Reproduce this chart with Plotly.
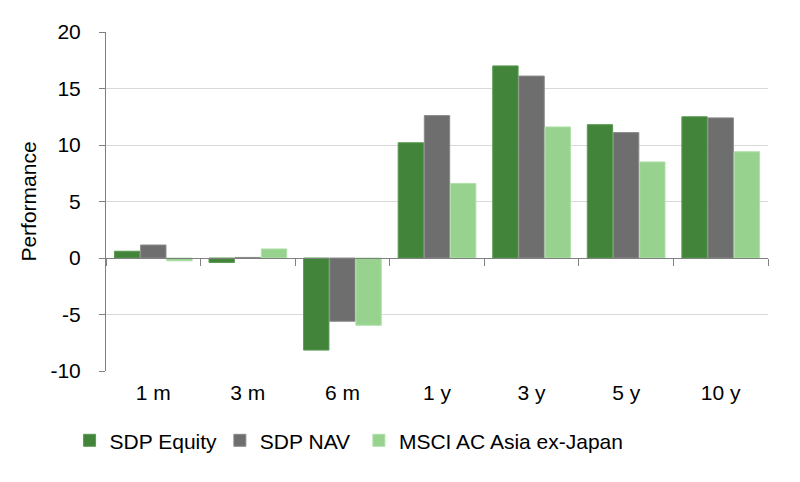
import plotly.graph_objects as go

PERIODS = ["1 m", "3 m", "6 m", "1 y", "3 y", "5 y", "10 y"]
SDP_EQUITY = [0.6, -0.4, -8.15, 10.2, 17.0, 11.8, 12.5]
SDP_NAV = [1.15, 0.05, -5.6, 12.6, 16.1, 11.1, 12.4]
MSCI_ASIA = [-0.25, 0.8, -5.95, 6.6, 11.6, 8.5, 9.4]
Y_TICKS = [-10, -5, 0, 5, 10, 15, 20]

SERIES = [
    ("SDP Equity", SDP_EQUITY, "#41843a", "#5a9c52", "legend", -0.055),
    ("SDP NAV", SDP_NAV, "#6e6e6e", "#8a8a8a", "legend2", 0.172),
    ("MSCI AC Asia ex-Japan", MSCI_ASIA, "#97d38f", "#b0e0aa", "legend3", 0.382),
]

FONT = "Liberation Sans, Arial, sans-serif"
AXIS = "#808080"
FS = 21

fig = go.Figure()
for name, vals, color, edge, leg, _ in SERIES:
    fig.add_trace(go.Bar(
        x=PERIODS, y=vals, name=name, legend=leg,
        marker=dict(color=color, line=dict(color=edge, width=1)),
    ))

# invisible trace so the bottom label axis is drawn
fig.add_trace(go.Scatter(x=PERIODS, y=[0] * len(PERIODS), xaxis="x2",
                         mode="markers", marker=dict(opacity=0),
                         showlegend=False, hoverinfo="skip"))

legends = {}
for _, _, _, _, leg, lx in SERIES:
    legends[leg] = dict(
        orientation="h", x=lx, xanchor="left", y=-0.145, yanchor="top",
        font=dict(size=FS), bgcolor="rgba(0,0,0,0)",
    )

fig.update_layout(
    width=800, height=482,
    margin=dict(l=98, r=40, t=18, b=119),
    paper_bgcolor="white", plot_bgcolor="white",
    font=dict(family=FONT, size=FS, color="black"),
    barmode="group", bargap=0.17, bargroupgap=0.03,
    xaxis=dict(
        anchor="free", position=1 / 3,
        showline=True, linecolor=AXIS, linewidth=1,
        ticks="outside", tickson="boundaries", ticklen=7, tickcolor=AXIS,
        showticklabels=False, showgrid=False,
    ),
    xaxis2=dict(
        matches="x", overlaying="x", anchor="y", side="bottom",
        showline=False, showgrid=False, ticks="",
        tickfont=dict(size=FS), ticklabelstandoff=7,
    ),
    yaxis=dict(
        range=[-10, 20], tickvals=Y_TICKS, ticktext=[str(v) for v in Y_TICKS],
        showline=True, linecolor=AXIS, linewidth=1,
        ticks="outside", ticklen=6, tickcolor=AXIS,
        showgrid=True, gridcolor="#d9d9d9", gridwidth=1,
        zeroline=False, ticklabelstandoff=14,
        title=dict(text="Performance", font=dict(size=FS), standoff=8),
        tickfont=dict(size=FS),
    ),
    **legends,
)

fig.write_html("out.html")
